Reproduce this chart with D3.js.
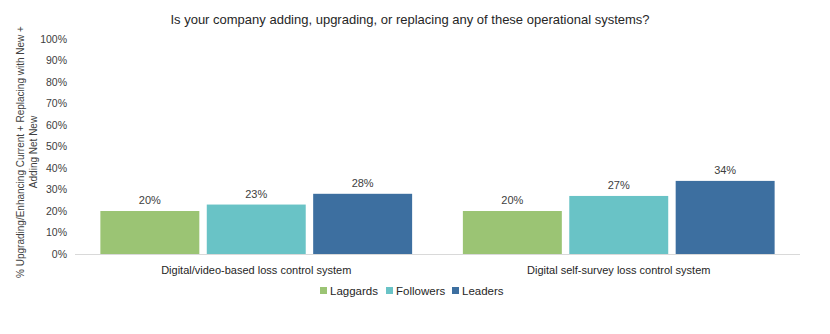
<!DOCTYPE html>
<meta charset="utf-8">
<style>
    body { margin: 0; background: #fff; }
    text { font-family: "Liberation Sans", Arial, sans-serif; fill: #262626; }
    .tick text { font-size: 10.5px; fill: #404040; }
    .label { font-size: 11px; text-anchor: middle; fill: #404040; }
</style>
<svg width="830" height="334"></svg>
<script src="https://d3js.org/d3.v7.min.js"></script>
<script>

    var categories = ["Digital/video-based loss control system", "Digital self-survey loss control system"];
    var seriesNames = ["Laggards", "Followers", "Leaders"];
    var seriesColors = ["#9bc474", "#69c3c6", "#3d6fa0"];
    var laggards = [20, 20];
    var followers = [23, 27];
    var leaders = [28, 34];
    var yTicks = [0, 10, 20, 30, 40, 50, 60, 70, 80, 90, 100];

    var series = [laggards, followers, leaders];

    var svg = d3.select("svg"),
        margin = {top: 39, right: 30, bottom: 80, left: 75},
        width = 830 - margin.left - margin.right,
        height = 254 - margin.top;

    var g = svg.append("g").attr("transform", "translate(" + margin.left + "," + margin.top + ")");

    var x0 = d3.scaleBand().domain(categories).range([0, width]).paddingInner(0.14).paddingOuter(0.07);
    var x1 = d3.scaleBand().domain(seriesNames).range([0, x0.bandwidth()]).paddingInner(0.07);
    var y = d3.scaleLinear().domain([0, 100]).range([height, 0]);

    // y axis, no line
    var yAxis = g.append("g")
        .call(d3.axisLeft(y).tickValues(yTicks).tickSize(0).tickPadding(8).tickFormat(function (d) { return d + "%"; }));
    yAxis.select(".domain").remove();

    // baseline
    g.append("line")
        .attr("x1", 0).attr("x2", width)
        .attr("y1", y(0) + 0.5).attr("y2", y(0) + 0.5)
        .attr("stroke", "#d9d9d9");

    var groups = g.selectAll(".grp")
        .data(categories)
        .enter().append("g")
        .attr("class", "grp")
        .attr("transform", function (d) { return "translate(" + x0(d) + ",0)"; });

    groups.each(function (cat, ci) {
        var sel = d3.select(this);
        seriesNames.forEach(function (s, si) {
            var v = series[si][ci];
            sel.append("rect")
                .attr("x", x1(s))
                .attr("y", y(v))
                .attr("width", x1.bandwidth())
                .attr("height", y(0) - y(v))
                .attr("fill", seriesColors[si]);
            sel.append("text")
                .attr("class", "label")
                .attr("x", x1(s) + x1.bandwidth() / 2)
                .attr("y", y(v) - 7)
                .text(v + "%");
        });
    });

    // category labels
    g.selectAll(".cat")
        .data(categories)
        .enter().append("text")
        .attr("class", "cat")
        .attr("x", function (d) { return x0(d) + x0.bandwidth() / 2; })
        .attr("y", height + 20)
        .attr("text-anchor", "middle")
        .style("font-size", "11px")
        .text(function (d) { return d; });

    // title
    svg.append("text")
        .attr("x", 410)
        .attr("y", 24)
        .attr("text-anchor", "middle")
        .style("font-size", "13px")
        .text("Is your company adding, upgrading, or replacing any of these operational systems?");

    // y axis title
    var yt = svg.append("text")
        .attr("transform", "translate(24," + 152 + ") rotate(-90)")
        .attr("text-anchor", "middle")
        .style("font-size", "10px")
        .style("fill", "#404040");
    yt.append("tspan").attr("x", 0).attr("dy", 0).text("% Upgrading/Enhancing Current + Replacing with New +");
    yt.append("tspan").attr("x", 0).attr("dy", 13).text("Adding Net New");

    // legend
    var legend = svg.append("g").attr("transform", "translate(320,286)");
    var offs = [0, 66, 132];
    seriesNames.forEach(function (s, i) {
        var lg = legend.append("g").attr("transform", "translate(" + offs[i] + ",0)");
        lg.append("rect").attr("width", 7).attr("height", 7).attr("y", 1).attr("fill", seriesColors[i]);
        lg.append("text").attr("x", 10).attr("y", 9).style("font-size", "11.5px").text(s);
    });

</script>
